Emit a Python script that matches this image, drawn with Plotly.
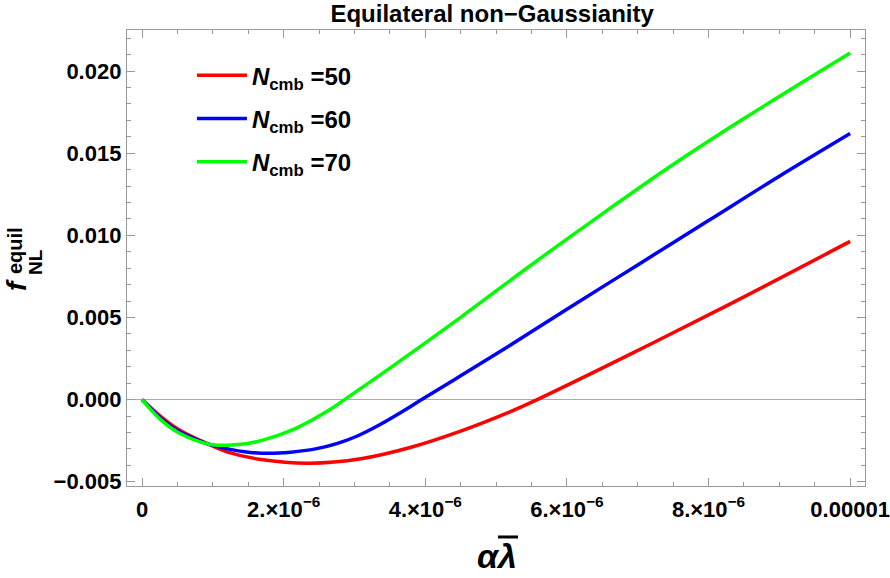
import plotly.graph_objects as go

# data (x = alpha * lambda-bar)
x_red = [0, 0.27e-6, 0.51e-6, 0.93e-6, 1.21e-6, 1.68e-6, 2.36e-6, 3.09e-6, 3.8e-6, 4.5e-6, 5.16e-6, 5.58e-6, 6.94e-6, 8.35e-6, 10.0e-6]
y_red = [0, -0.00105, -0.0018, -0.0027, -0.0032, -0.00365, -0.00387, -0.0036, -0.0029, -0.00192, -0.00081, 0.0, 0.00286, 0.00592, 0.00963]

x_blue = [0, 0.27e-6, 0.51e-6, 0.93e-6, 1.21e-6, 1.5e-6, 1.78e-6, 2.1e-6, 2.45e-6, 2.75e-6, 3.05e-6, 3.35e-6, 3.65e-6, 3.95e-6, 4.5e-6, 5.16e-6, 6.0e-6, 7.0e-6, 8.0e-6, 9.0e-6, 10.0e-6]
y_blue = [0, -0.00115, -0.0019, -0.0027, -0.0030, -0.0032, -0.00327, -0.0032, -0.0030, -0.00268, -0.0022, -0.00155, -0.0008, 0.0, 0.00145, 0.0032, 0.0055, 0.0082, 0.0109, 0.0136, 0.0162]

x_green = [0, 0.27e-6, 0.51e-6, 0.93e-6, 1.15e-6, 1.4e-6, 1.68e-6, 2.15e-6, 2.62e-6, 2.86e-6, 3.56e-6, 4.5e-6, 5.5e-6, 6.5e-6, 7.5e-6, 8.5e-6, 10.0e-6]
y_green = [0, -0.00125, -0.002, -0.0027, -0.00278, -0.00272, -0.0025, -0.0018, -0.0007, 0.0, 0.0021, 0.00501, 0.00821, 0.01131, 0.01431, 0.01711, 0.0211]

series_names = ["<b><i>N</i><sub>cmb</sub> =50</b>", "<b><i>N</i><sub>cmb</sub> =60</b>", "<b><i>N</i><sub>cmb</sub> =70</b>"]
series_colors = ["#FF0000", "#0000FF", "#00FF00"]

x_tickvals = [0, 2e-6, 4e-6, 6e-6, 8e-6, 1e-5]
x_ticktext = ["0", "2.×10<sup>−6</sup>", "4.×10<sup>−6</sup>", "6.×10<sup>−6</sup>", "8.×10<sup>−6</sup>", "0.00001"]

FONT = "Liberation Sans, Arial, sans-serif"

fig = go.Figure()
for i, (xs, ys) in enumerate([(x_red, y_red), (x_blue, y_blue), (x_green, y_green)]):
    fig.add_trace(go.Scatter(
        x=xs, y=ys, mode="lines", name=series_names[i],
        line=dict(color=series_colors[i], width=3.5, shape="spline", smoothing=1.0),
        legendgroup=f"g{i}",
    ))

axis_color = "#999999"
fig.update_layout(
    width=890, height=578,
    margin=dict(l=127, r=25, t=30, b=92),
    paper_bgcolor="white", plot_bgcolor="white",
    font=dict(family=FONT, color="black"),
    title=dict(text="<b>Equilateral non−Gaussianity</b>", x=0.553, xanchor="center",
               y=0.977, yanchor="middle", font=dict(size=24, family=FONT)),
    showlegend=True,
    legend=dict(x=0.088, y=0.949, xanchor="left", yanchor="top",
                bgcolor="rgba(0,0,0,0)", font=dict(size=24, family=FONT),
                tracegroupgap=9, itemwidth=50),
)
fig.update_xaxes(
    range=[-0.212e-6, 10.21e-6], automargin=False,
    showline=True, linecolor=axis_color, linewidth=1.3, mirror="ticks",
    ticks="inside", ticklen=8, tickcolor=axis_color, tickwidth=1.2,
    tickmode="array", tickvals=x_tickvals, ticktext=x_ticktext,
    tickfont=dict(size=22, family=FONT, weight="bold"), ticklabelstandoff=3,
    minor=dict(tickmode="linear", tick0=0, dtick=0.5e-6, ticks="inside", ticklen=4,
               tickcolor=axis_color, tickwidth=1.2, showgrid=False),
    showgrid=False, zeroline=False,
)
fig.update_yaxes(
    range=[-0.00526, 0.0225], automargin=False,
    showline=True, linecolor=axis_color, linewidth=1.3, mirror="ticks",
    ticks="inside", ticklen=8, tickcolor=axis_color, tickwidth=1.2,
    tickmode="linear", tick0=0, dtick=0.005, tickformat=".3f",
    tickfont=dict(size=22, family=FONT, weight="bold"),
    minor=dict(tickmode="linear", tick0=0, dtick=0.001, ticks="inside", ticklen=4,
               tickcolor=axis_color, tickwidth=1.2, showgrid=False),
    showgrid=False, zeroline=True, zerolinecolor="#aaaaaa", zerolinewidth=1,
)

# x-axis label: alpha lambda with a bar over lambda
fig.add_annotation(text="<b><i>αλ</i></b>", xref="paper", yref="paper",
                   x=0.5014, y=-0.1535, xanchor="center", yanchor="middle",
                   showarrow=False, font=dict(size=34, family=FONT))
fig.add_shape(type="line", xref="paper", yref="paper",
              x0=0.5028, x1=0.5298, y0=-0.1118, y1=-0.1118,
              line=dict(color="black", width=3))

# y-axis label: f^{equil}_{NL}
fig.add_annotation(text="<b><i>f</i></b>", xref="paper", yref="paper",
                   x=-0.149, y=0.441, textangle=-90, xanchor="center", yanchor="middle",
                   showarrow=False, font=dict(size=28, family=FONT), borderpad=0)
fig.add_annotation(text="<b>equil</b>", xref="paper", yref="paper",
                   x=-0.1524, y=0.5164, textangle=-90, xanchor="center", yanchor="middle",
                   showarrow=False, font=dict(size=20, family=FONT), borderpad=0)
fig.add_annotation(text="<b>NL</b>", xref="paper", yref="paper",
                   x=-0.1247, y=0.491, textangle=-90, xanchor="center", yanchor="middle",
                   showarrow=False, font=dict(size=19, family=FONT), borderpad=0)

fig.write_html("out.html")
